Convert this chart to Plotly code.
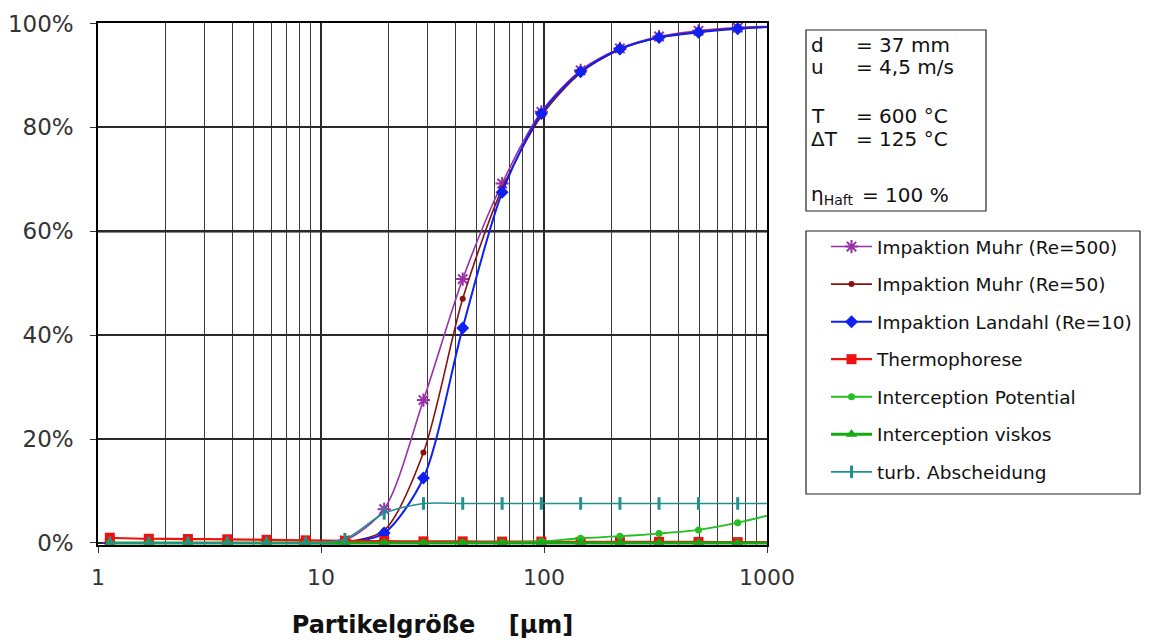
import plotly.graph_objects as go

# ---------------- data ----------------
sizes_um = [1.13, 1.69, 2.53, 3.8, 5.7, 8.54, 12.8, 19.2, 28.8, 43.2, 64.9,
            97.3, 146, 219, 328, 493, 739, 1108]

impaktion_muhr_re500 = [0, 0, 0, 0, 0, 0, 0.5, 6.5, 27.5, 50.8, 69.2,
                        83.0, 91.0, 95.2, 97.5, 98.6, 99.2, 99.5]
impaktion_muhr_re50 = [0, 0, 0, 0, 0, 0, 0.1, 2.4, 17.4, 47.0, 68.2,
                       82.2, 90.5, 95.0, 97.3, 98.4, 99.1, 99.4]
impaktion_landahl_re10 = [0, 0, 0, 0, 0, 0, 0, 1.9, 12.5, 41.4, 67.5,
                          82.7, 90.7, 95.1, 97.3, 98.3, 99.0, 99.4]
thermophorese = [1.0, 0.8, 0.75, 0.7, 0.6, 0.5, 0.4, 0.35, 0.3, 0.3, 0.25,
                 0.25, 0.2, 0.2, 0.2, 0.2, 0.15, 0.15]
interception_potential = [0, 0, 0, 0, 0, 0, 0, 0, 0, 0.05, 0.1,
                          0.3, 0.9, 1.3, 1.8, 2.5, 3.9, 5.7]
interception_viskos = [0, 0, 0, 0, 0, 0, 0, 0, 0, 0, 0,
                       0, 0, 0, 0, 0, 0, 0]
turb_abscheidung = [0, 0, 0, 0, 0, 0, 0.7, 5.7, 7.6, 7.6, 7.6,
                    7.6, 7.6, 7.6, 7.6, 7.6, 7.6, 7.6]

series_names = ["Impaktion Muhr (Re=500)", "Impaktion Muhr (Re=50)",
                "Impaktion Landahl (Re=10)", "Thermophorese",
                "Interception Potential", "Interception viskos",
                "turb. Abscheidung"]
series_values = [impaktion_muhr_re500, impaktion_muhr_re50,
                 impaktion_landahl_re10, thermophorese,
                 interception_potential, interception_viskos,
                 turb_abscheidung]

x_tick_vals = [1, 10, 100, 1000]
x_tick_text = ["1", "10", "100", "1000"]
y_tick_vals = [0, 20, 40, 60, 80, 100]
y_tick_text = ["0%", "20%", "40%", "60%", "80%", "100%"]

info_lines = [("d", "= 37 mm"), ("u", "= 4,5 m/s"), ("T", "= 600 °C"),
              ("ΔT", "= 125 °C"), ("η<sub>Haft</sub>", "= 100 %")]

# ---------------- styles ----------------
styles = [
    dict(color="#9932A8", symbol="asterisk-open", size=11, lw=1.6, mlw=2),
    dict(color="#8B1010", symbol="circle", size=6, lw=1.6, mlw=0),
    dict(color="#1020F0", symbol="diamond", size=10, lw=2, mlw=0),
    dict(color="#F01010", symbol="square", size=10, lw=2.2, mlw=0),
    dict(color="#22C022", symbol="circle", size=7, lw=1.8, mlw=0),
    dict(color="#14A814", symbol="triangle-up", size=10, lw=3, mlw=0),
    dict(color="#209090", symbol="line-ns", size=9, lw=1.6, mlw=3),
]

FONT = "DejaVu Sans"
W, H = 1152, 643
L, R, T, B = 98, 767, 23, 545


def px(p):
    return (p - L) / (R - L)


def py(q):
    return (B - q) / (B - T)


fig = go.Figure()
for name, vals, st in zip(series_names, series_values, styles):
    fig.add_trace(go.Scatter(
        x=sizes_um, y=vals, name=name, mode="lines+markers",
        legendgroup=name,
        line=dict(color=st["color"], width=st["lw"], shape="spline", smoothing=0.8),
        marker=dict(symbol=st["symbol"], size=st["size"], color=st["color"],
                    line=dict(color=st["color"], width=st["mlw"])),
    ))

grid_col = "#2a2a2a"
fig.update_xaxes(
    type="log", range=[0, 3], automargin=False,
    tickvals=x_tick_vals, ticktext=x_tick_text,
    ticks="outside", ticklen=6, tickcolor="#333",
    tickfont=dict(family=FONT, size=22, color="#333"),
    ticklabelstandoff=6,
    showgrid=True, gridcolor=grid_col, gridwidth=1.5,
    minor=dict(dtick="D1", showgrid=True, gridcolor="#3a3a3a", gridwidth=1.3, ticks=""),
    showline=True, linecolor="black", linewidth=1.5, mirror=True,
    zeroline=False,
    title=dict(text="<b>Partikelgröße\u00a0\u00a0\u00a0\u00a0[µm]</b>",
               font=dict(family=FONT, size=24, color="#111"), standoff=27),
)
fig.update_yaxes(
    range=[-0.4, 100.1], tickvals=y_tick_vals, ticktext=y_tick_text,
    automargin=False,
    ticks="outside", ticklen=6, tickcolor="#333",
    tickfont=dict(family=FONT, size=23, color="#333"),
    showgrid=True, gridcolor=grid_col, gridwidth=1.5,
    showline=True, linecolor="black", linewidth=1.5, mirror=True,
    zeroline=False, ticklabelstandoff=12,
)

shapes = [
    # emphasised 60 % grid line as in the reference
    dict(type="line", xref="paper", x0=0, x1=1, yref="y", y0=60, y1=60,
         line=dict(color="#111", width=2.4), layer="below"),
    dict(type="rect", xref="paper", yref="paper", x0=px(806), x1=px(986),
         y0=py(211), y1=py(30), line=dict(color="#222", width=1.2)),
    dict(type="rect", xref="paper", yref="paper", x0=px(806), x1=px(1140),
         y0=py(494), y1=py(231), line=dict(color="#222", width=1.2)),
]

annotations = []
line_y = [45, 67, 116, 139, 195]
right_x = [854, 854, 854, 854, 860]
for (lab, val), yy, rx in zip(info_lines, line_y, right_x):
    annotations.append(dict(xref="paper", yref="paper", x=px(809), y=py(yy),
                            text=lab, showarrow=False, xanchor="left", yanchor="middle",
                            font=dict(family=FONT, size=20, color="#111")))
    annotations.append(dict(xref="paper", yref="paper", x=px(rx), y=py(yy),
                            text=val, showarrow=False, xanchor="left", yanchor="middle",
                            font=dict(family=FONT, size=20, color="#111")))

fig.update_layout(
    width=W, height=H,
    margin=dict(l=L, r=W - R, t=T, b=H - B, autoexpand=False),
    paper_bgcolor="white", plot_bgcolor="white",
    showlegend=True,
    legend=dict(x=px(826), y=py(228), xanchor="left", yanchor="top",
                font=dict(family=FONT, size=18.5, color="#111"),
                bgcolor="rgba(0,0,0,0)", borderwidth=0,
                tracegroupgap=10.5, itemwidth=41),
    shapes=shapes, annotations=annotations,
)

fig.write_html("out.html")
